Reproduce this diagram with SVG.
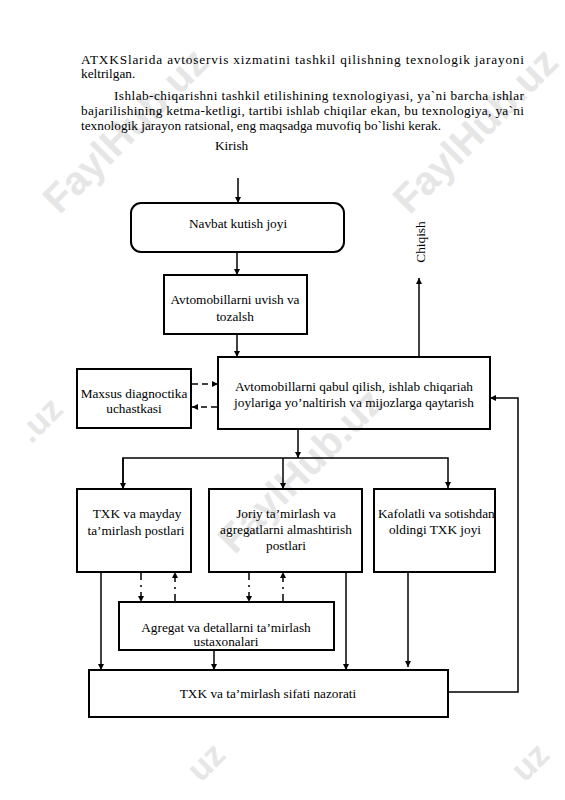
<svg xmlns="http://www.w3.org/2000/svg" width="565" height="800" viewBox="0 0 565 800">
<style>
  text { font-family: "Liberation Serif", "Times New Roman", serif; font-size: 13.3px; fill: #000; }
  .c { text-anchor: middle; }
  .box { fill: none; stroke: #000; stroke-width: 2; }
  .ln { fill: none; stroke: #000; stroke-width: 1.5; }
  .dash { fill: none; stroke: #000; stroke-width: 1.5; stroke-dasharray: 6 4; }
  .dd { fill: none; stroke: #000; stroke-width: 1.5; stroke-dasharray: 7 5 2 5; }
  .wm { font-family: "Liberation Sans", Arial, sans-serif; font-size: 40px; font-weight: bold; fill: #e6e6e6; text-anchor: middle; }
  .wms { font-family: "Liberation Sans", Arial, sans-serif; font-size: 34px; font-weight: bold; fill: #e6e6e6; text-anchor: middle; }
</style>
<defs>
  <marker id="ah" viewBox="0 0 10 10" refX="10" refY="5" markerWidth="7" markerHeight="6" markerUnits="userSpaceOnUse" orient="auto">
    <path d="M0,0 L10,5 L0,10 z" fill="#000"/>
  </marker>
</defs>
<rect width="565" height="800" fill="#fff"/>
<g id="watermarks">
  <text class="wm" transform="translate(135,140) rotate(-45)">FaylHub.uz</text>
  <text class="wm" transform="translate(485,140) rotate(-45)">FaylHub.uz</text>
  <text class="wm" transform="translate(310,480) rotate(-45)">FaylHub.uz</text>
  <text class="wms" transform="translate(48,428) rotate(-45)">.uz</text>
  <text class="wms" transform="translate(214,770) rotate(-45)">uz</text>
  <text class="wms" transform="translate(538,770) rotate(-45)">uz</text>
</g>
<g id="intro">
  <text x="81" y="64" textLength="443" lengthAdjust="spacing">ATXKSlarida avtoservis xizmatini tashkil qilishning texnologik jarayoni</text>
  <text x="81" y="78">keltrilgan.</text>
  <text x="114" y="100" textLength="410" lengthAdjust="spacing">Ishlab-chiqarishni tashkil etilishining texnologiyasi, ya`ni barcha ishlar</text>
  <text x="81" y="115" textLength="443" lengthAdjust="spacing">bajarilishining ketma-ketligi, tartibi ishlab chiqilar ekan, bu texnologiya, ya`ni</text>
  <text x="81" y="130">texnologik jarayon ratsional, eng maqsadga muvofiq bo`lishi kerak.</text>
  <text x="215" y="150">Kirish</text>
  <text transform="translate(425,242) rotate(-90)" class="c">Chiqish</text>
</g>
<g id="connectors">
  <line class="ln" x1="238" y1="178" x2="238" y2="203" marker-end="url(#ah)"/>
  <line class="ln" x1="237" y1="252" x2="237" y2="275" marker-end="url(#ah)"/>
  <line class="ln" x1="237" y1="334" x2="237" y2="357" marker-end="url(#ah)"/>
  <line class="ln" x1="419" y1="357" x2="419" y2="278" marker-end="url(#ah)"/>
  <line class="dash" x1="192" y1="384" x2="218" y2="384" marker-end="url(#ah)"/>
  <line class="dash" x1="217" y1="407" x2="192" y2="407" marker-end="url(#ah)"/>
  <line class="ln" x1="298" y1="429" x2="298" y2="458" marker-end="url(#ah)"/>
  <polyline class="ln" points="123,488 123,458 448,458 448,488" marker-end="url(#ah)"/>
  <line class="ln" x1="123" y1="458" x2="123" y2="489" marker-end="url(#ah)"/>
  <line class="ln" x1="283" y1="458" x2="283" y2="489" marker-end="url(#ah)"/>
  <line class="ln" x1="101" y1="572" x2="101" y2="670" marker-end="url(#ah)"/>
  <line class="dd" x1="141" y1="573" x2="141" y2="602" marker-end="url(#ah)"/>
  <line class="dd" x1="175" y1="601" x2="175" y2="572" marker-end="url(#ah)"/>
  <line class="dd" x1="249" y1="573" x2="249" y2="602" marker-end="url(#ah)"/>
  <line class="dd" x1="283" y1="601" x2="283" y2="572" marker-end="url(#ah)"/>
  <line class="ln" x1="214" y1="650" x2="214" y2="670" marker-end="url(#ah)"/>
  <line class="ln" x1="346" y1="572" x2="346" y2="670" marker-end="url(#ah)"/>
  <line class="ln" x1="408" y1="572" x2="408" y2="667" marker-end="url(#ah)"/>
  <polyline class="ln" points="448,692 518,692 518,398 490,398" marker-end="url(#ah)"/>
</g>
<g id="navbat">
  <rect class="box" x="131" y="203" width="213" height="49" rx="10"/>
  <text class="c" x="238" y="228">Navbat kutish joyi</text>
</g>
<g id="uvish">
  <rect class="box" x="164" y="275" width="143" height="59"/>
  <text class="c" x="235" y="304">Avtomobillarni uvish va</text>
  <text class="c" x="235" y="321">tozalsh</text>
</g>
<g id="qabul">
  <rect class="box" x="218" y="357" width="272" height="72"/>
  <text class="c" x="354" y="391">Avtomobillarni qabul qilish, ishlab chiqariah</text>
  <text class="c" x="354" y="407">joylariga yo’naltirish va mijozlarga qaytarish</text>
</g>
<g id="maxsus">
  <rect class="box" x="77" y="369" width="114" height="59"/>
  <text class="c" x="134" y="398">Maxsus diagnoctika</text>
  <text class="c" x="134" y="413">uchastkasi</text>
</g>
<g id="txk">
  <rect class="box" x="77" y="489" width="114" height="83"/>
  <text class="c" x="137" y="518">TXK va mayday</text>
  <text class="c" x="136" y="535">ta’mirlash postlari</text>
</g>
<g id="joriy">
  <rect class="box" x="209" y="489" width="153" height="83"/>
  <text class="c" x="286" y="518">Joriy ta’mirlash va</text>
  <text class="c" x="286" y="534">agregatlarni almashtirish</text>
  <text class="c" x="286" y="550">postlari</text>
</g>
<g id="kafolatli">
  <rect class="box" x="374" y="489" width="121" height="83"/>
  <text x="378" y="518">Kafolatli va sotishdan</text>
  <text class="c" x="435" y="534">oldingi TXK joyi</text>
</g>
<g id="agregat">
  <rect class="box" x="119" y="602" width="215" height="48"/>
  <text class="c" x="226" y="632">Agregat va detallarni ta’mirlash</text>
  <text class="c" x="226" y="646">ustaxonalari</text>
</g>
<g id="nazorat">
  <rect class="box" x="89" y="670" width="359" height="47"/>
  <text class="c" x="268" y="698">TXK va ta’mirlash sifati nazorati</text>
</g>
</svg>
